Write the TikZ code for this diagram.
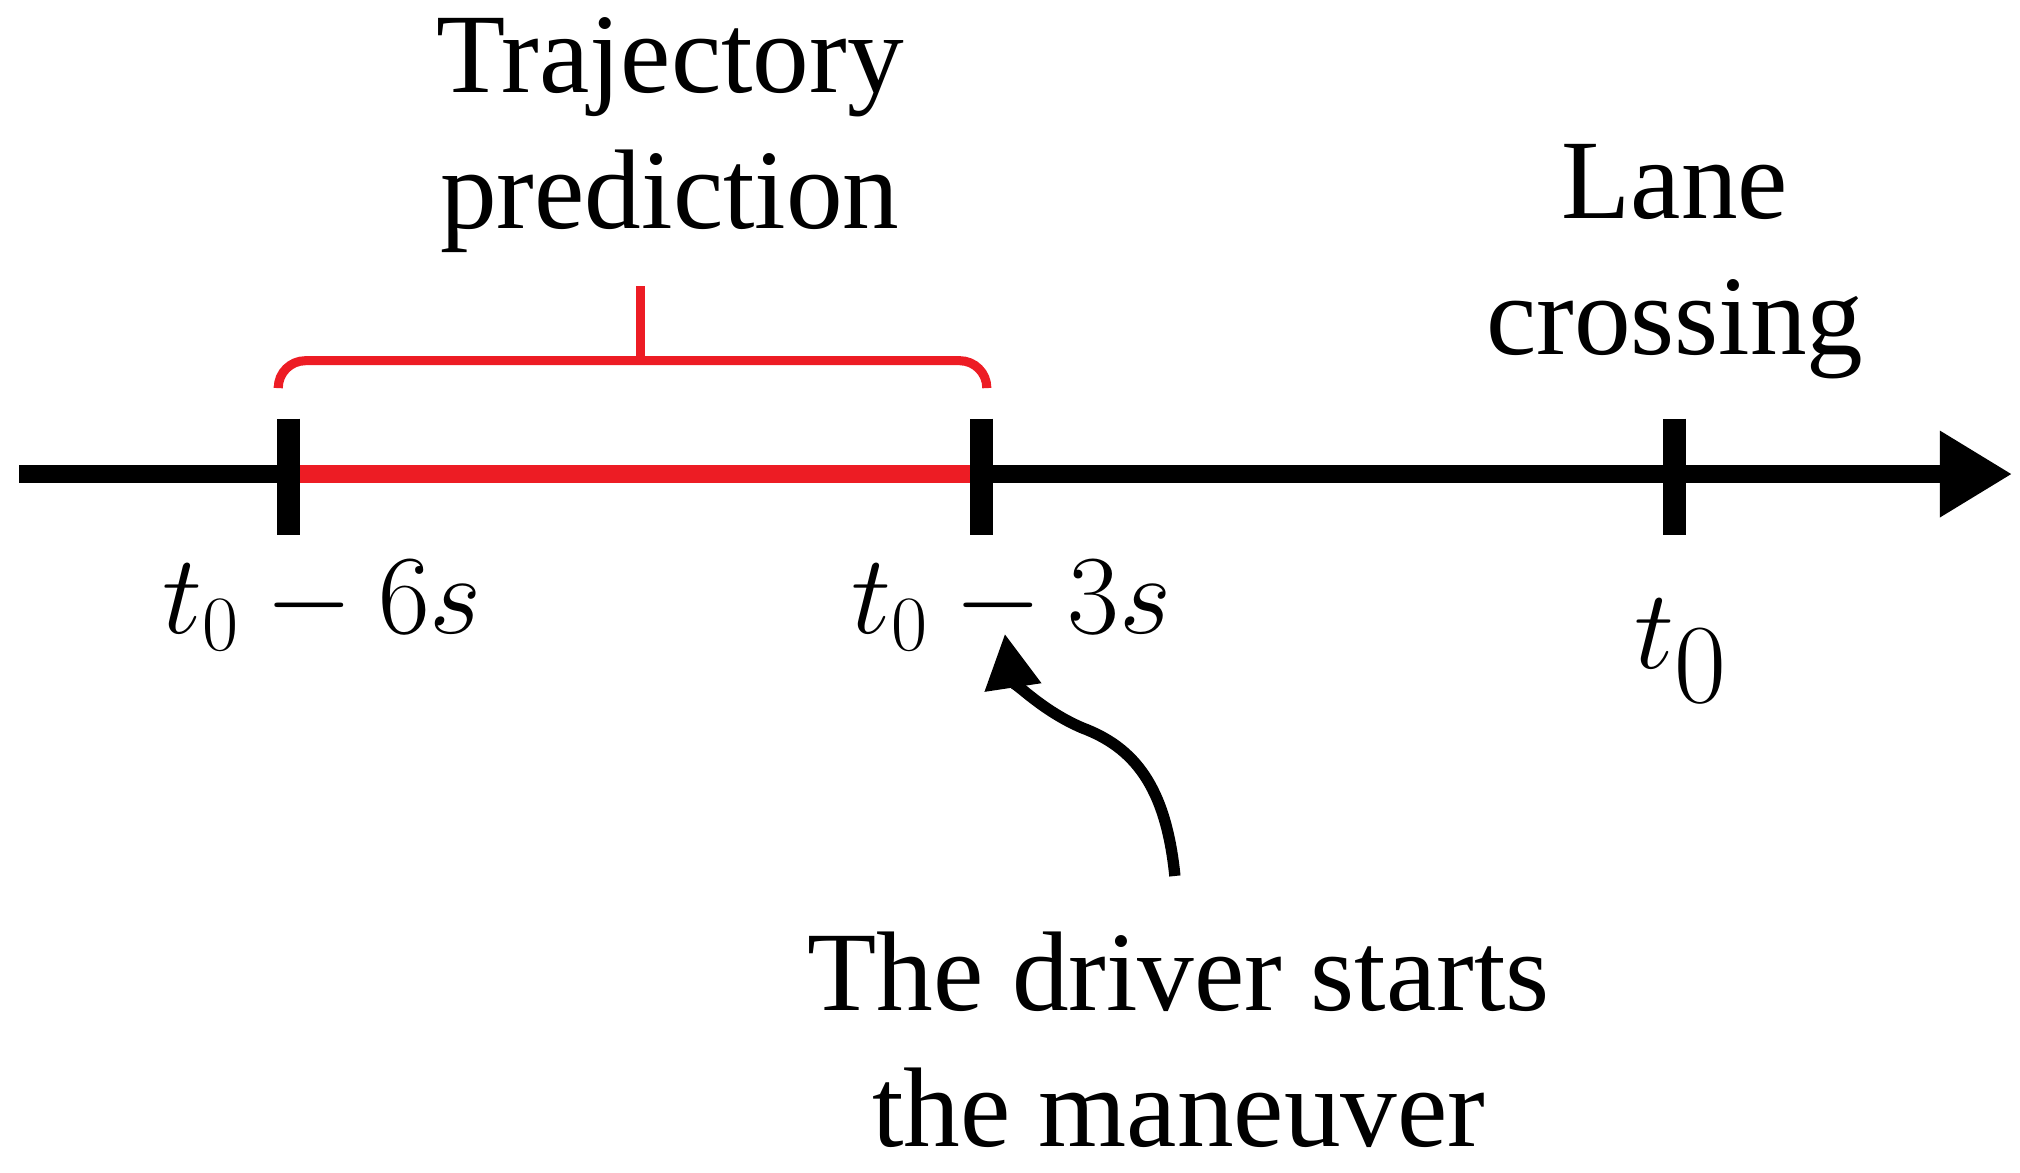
\documentclass[tikz,border=0pt]{standalone}
\usepackage{fontspec}
\setmainfont{Liberation Serif}
\usepackage{tikz}
\usetikzlibrary{positioning,arrows.meta}
\definecolor{tred}{RGB}{237,28,36}
\tikzset{%
  axis/.style = {line width=4pt,-{Triangle[length=16pt,width=18pt]}},
  tick/.style = {line width=5pt},
  brace/.style = {tred,line width=2pt},
  lbl/.style = {font=\fontsize{25}{30}\selectfont,align=center,inner sep=0pt},
  mlbl/.style = {font=\fontsize{26}{30}\selectfont,inner sep=0pt}
}
\begin{document}
\begin{tikzpicture}[x=0.01cm,y=0.01cm]
  \useasboundingbox (0,0) rectangle (1568,910);
  \coordinate (start) at (15,542);
  \coordinate (end) at (1562,542);
  \coordinate (ta) at (224,542);
  \coordinate (tb) at (762,542);
  \coordinate (tc) at (1300,542);
  \draw[axis] (start) -- (end);
  \draw[tred,line width=4pt] (ta) -- (tb);
  \foreach \t in {ta,tb,tc}
    \draw[tick] ([yshift=0.43cm]\t) -- ([yshift=-0.47cm]\t);
  % bracket
  \coordinate (bl) at (216,610);
  \coordinate (br) at (766,610);
  \coordinate (bm) at (497,630);
  \draw[brace,rounded corners=6pt] (bl) |- (bm -| br) -- (br);
  \draw[brace] (bm) -- ++(0,58);
  % labels
  \node[lbl] (traj) at (520,805) {Trajectory\\prediction};
  \node[lbl] (lane) at (1300,707) {Lane\\crossing};
  \node[mlbl] (m6) at (250,440) {$t_0-6s$};
  \node[mlbl] (m3) at (785,440) {$t_0-3s$};
  \node[mlbl,font=\fontsize{34}{38}\selectfont] (m0) at (1305,405) {$t_0$};
  \node[lbl] (drv) at (915,103) {The driver starts\\the maneuver};
  \draw[line width=2.5pt,-{Triangle[length=12pt,width=12pt]}]
    (912,230) .. controls (905,300) and (880,330) .. (840,345)
    .. controls (805,360) and (785,385) .. (780,418);
\end{tikzpicture}
\end{document}
